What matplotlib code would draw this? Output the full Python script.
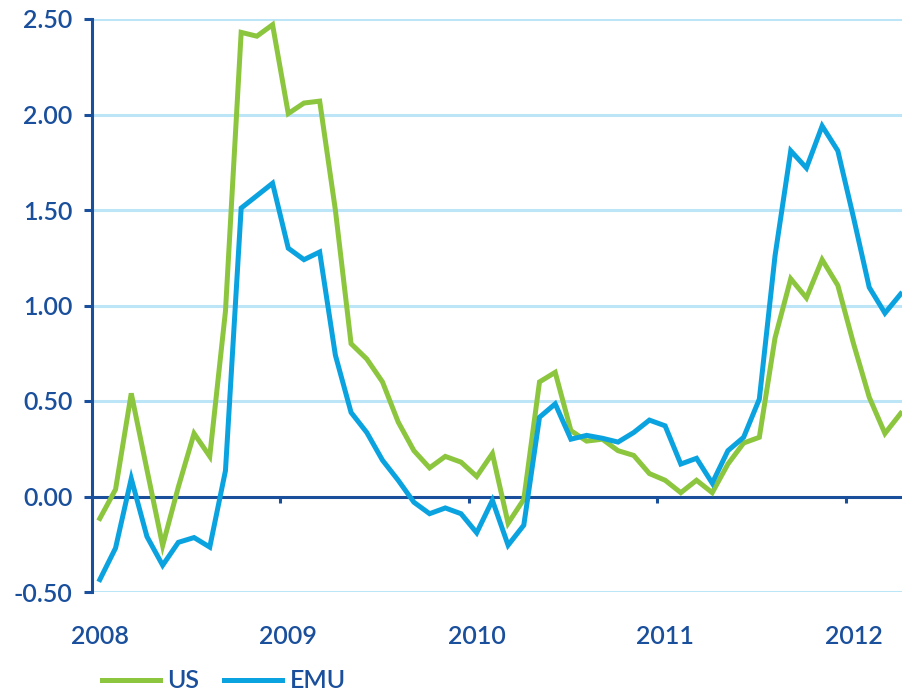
import numpy as np
import matplotlib
matplotlib.use("Agg")
import matplotlib.pyplot as plt

plt.rcParams["font.family"] = ["Lato", "DejaVu Sans"]
plt.rcParams["font.weight"] = "semibold"

# monthly, Jan 2008 - Apr 2012
us = [-0.115, 0.037, 0.54, 0.14, -0.257, 0.05, 0.33, 0.21, 0.97, 2.43,
      2.41, 2.47, 2.005, 2.06, 2.07, 1.50, 0.80, 0.72, 0.60, 0.39,
      0.24, 0.15, 0.21, 0.18, 0.105, 0.225, -0.14, -0.015, 0.60, 0.65,
      0.345, 0.29, 0.30, 0.24, 0.215, 0.12, 0.085, 0.02, 0.085, 0.02,
      0.17, 0.28, 0.31, 0.83, 1.14, 1.04, 1.24, 1.105, 0.80, 0.52,
      0.33, 0.435]
emu = [-0.435, -0.27, 0.094, -0.21, -0.36, -0.24, -0.215, -0.265, 0.135, 1.51,
       1.575, 1.64, 1.30, 1.24, 1.28, 0.74, 0.44, 0.335, 0.19, 0.085,
       -0.03, -0.09, -0.06, -0.09, -0.19, -0.02, -0.255, -0.15, 0.415, 0.485,
       0.30, 0.32, 0.305, 0.285, 0.335, 0.40, 0.37, 0.17, 0.20, 0.07,
       0.24, 0.31, 0.51, 1.26, 1.81, 1.72, 1.94, 1.81, 1.46, 1.095,
       0.96, 1.06]
years = ["2008", "2009", "2010", "2011", "2012"]
y_ticks = [-0.5, 0.0, 0.5, 1.0, 1.5, 2.0, 2.5]

dark = "#1a4f9c"
green = "#8cc63e"
blue = "#0aa3e0"
grid_c = "#bde5f8"

fig = plt.figure(figsize=(9.03, 6.91), dpi=100)
ax = fig.add_axes([92 / 903, 1 - 592 / 691, 1 - 92 / 903, (592 - 19) / 691])

x = np.arange(len(us))

for v in y_ticks:
    if v != 0:
        ax.axhline(v, color=grid_c, lw=2.2, zorder=1)

ax.plot(x, us, color=green, lw=3.6, label="US", zorder=3, solid_joinstyle="miter")
ax.plot(x, emu, color=blue, lw=3.6, label="EMU", zorder=4, solid_joinstyle="miter")

ax.set_xlim(-0.5, 51.15)
ax.set_ylim(-0.5, 2.5)

ax.spines["top"].set_visible(False)
ax.spines["right"].set_visible(False)
ax.spines["left"].set_color(dark)
ax.spines["left"].set_linewidth(2.2)
ax.spines["bottom"].set_position(("data", 0))
ax.spines["bottom"].set_color(dark)
ax.spines["bottom"].set_linewidth(2.2)
ax.spines["bottom"].set_zorder(2)

ax.set_yticks(y_ticks)
ax.set_yticklabels([f"{v:.2f}" for v in y_ticks])
ax.tick_params(axis="y", colors=dark, labelsize=18, length=6, width=2.2,
               pad=8, labelcolor=dark)

# year boundaries as ticks on the zero line
ax.set_xticks([11.5, 23.5, 35.5, 47.5])
ax.set_xticklabels([])
ax.tick_params(axis="x", colors=dark, length=4.5, width=2.2, direction="out")

sec = ax.secondary_xaxis(0.0)
sec.set_xticks([0, 12, 24, 36, 48])
sec.set_xticklabels(years)
sec.tick_params(length=0, labelsize=18, labelcolor=dark, pad=24)
sec.spines["bottom"].set_visible(False)

fig.legend(loc="center left", bbox_to_anchor=(90 / 903, 1 - 681 / 691),
           ncol=2, frameon=False, fontsize=18, handlelength=2.3,
           handletextpad=0.3, columnspacing=1.0, borderpad=0,
           labelcolor=dark)

fig.savefig("out.png", dpi=100)
